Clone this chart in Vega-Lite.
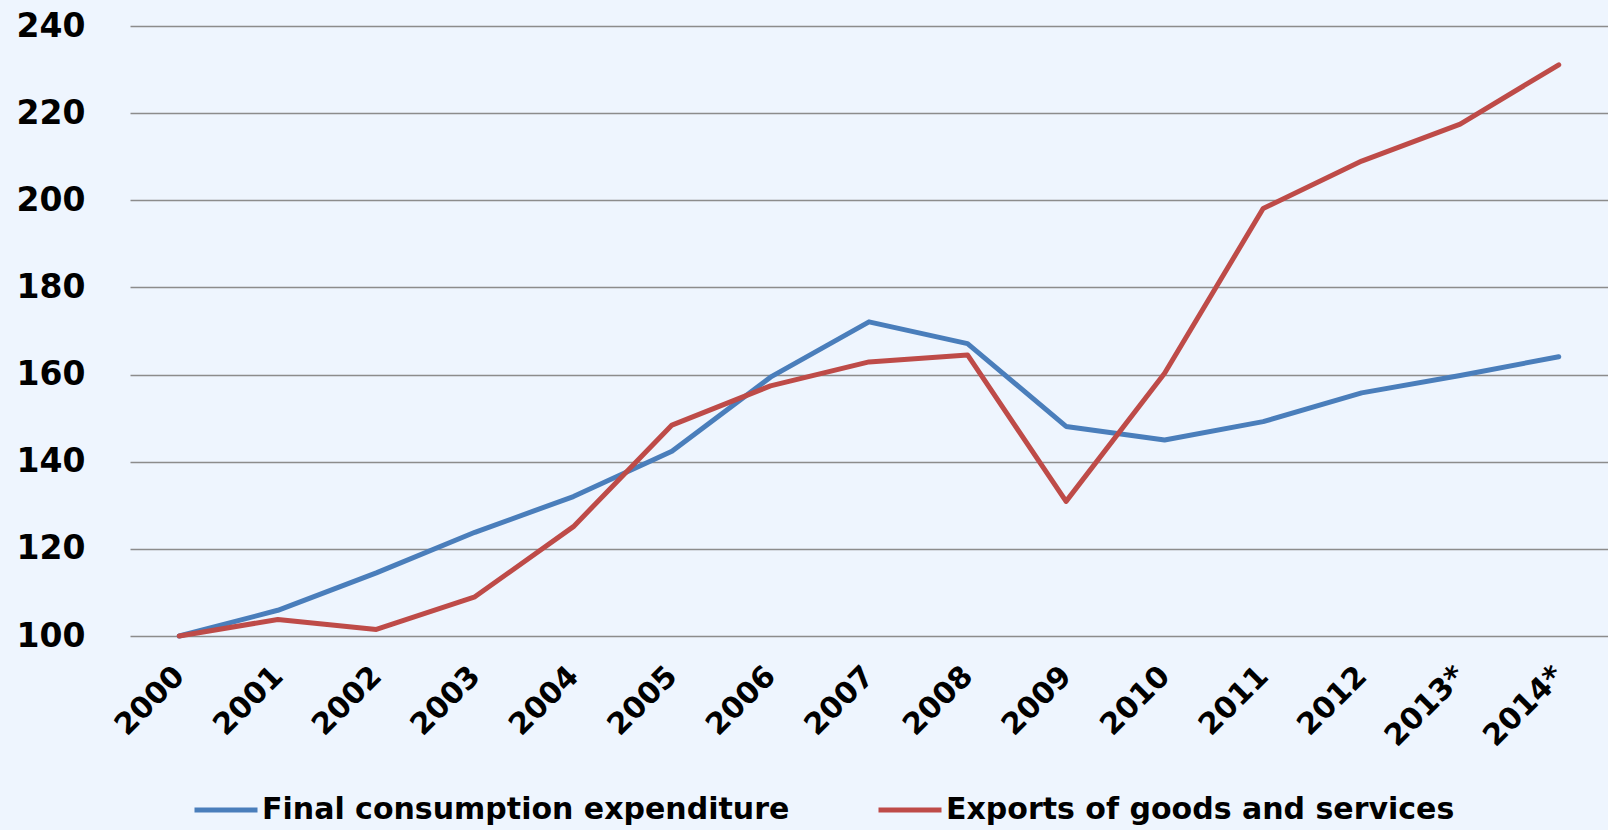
{
  "$schema": "https://vega.github.io/schema/vega-lite/v6.json",
  "width": 1478,
  "height": 610,
  "autosize": {"type": "none"},
  "padding": {"left": 130, "top": 26, "right": 0, "bottom": 194},
  "background": "#EEF5FE",
  "config": {"view": {"stroke": null}, "font": "DejaVu Sans"},
  "data": {
    "values": [
      {"year": "2000", "series": "Final consumption expenditure", "value": 100},
      {"year": "2001", "series": "Final consumption expenditure", "value": 105.9},
      {"year": "2002", "series": "Final consumption expenditure", "value": 114.5},
      {"year": "2003", "series": "Final consumption expenditure", "value": 123.8},
      {"year": "2004", "series": "Final consumption expenditure", "value": 132.0},
      {"year": "2005", "series": "Final consumption expenditure", "value": 142.4},
      {"year": "2006", "series": "Final consumption expenditure", "value": 159.4},
      {"year": "2007", "series": "Final consumption expenditure", "value": 172.1},
      {"year": "2008", "series": "Final consumption expenditure", "value": 167.1},
      {"year": "2009", "series": "Final consumption expenditure", "value": 148.1},
      {"year": "2010", "series": "Final consumption expenditure", "value": 145.0},
      {"year": "2011", "series": "Final consumption expenditure", "value": 149.2},
      {"year": "2012", "series": "Final consumption expenditure", "value": 155.8},
      {"year": "2013*", "series": "Final consumption expenditure", "value": 159.8},
      {"year": "2014*", "series": "Final consumption expenditure", "value": 164.1},
      {"year": "2000", "series": "Exports of goods and services", "value": 100},
      {"year": "2001", "series": "Exports of goods and services", "value": 103.8},
      {"year": "2002", "series": "Exports of goods and services", "value": 101.5},
      {"year": "2003", "series": "Exports of goods and services", "value": 109.0},
      {"year": "2004", "series": "Exports of goods and services", "value": 125.1},
      {"year": "2005", "series": "Exports of goods and services", "value": 148.4},
      {"year": "2006", "series": "Exports of goods and services", "value": 157.4},
      {"year": "2007", "series": "Exports of goods and services", "value": 162.9},
      {"year": "2008", "series": "Exports of goods and services", "value": 164.5},
      {"year": "2009", "series": "Exports of goods and services", "value": 130.9},
      {"year": "2010", "series": "Exports of goods and services", "value": 160.3},
      {"year": "2011", "series": "Exports of goods and services", "value": 198.1},
      {"year": "2012", "series": "Exports of goods and services", "value": 209.0},
      {"year": "2013*", "series": "Exports of goods and services", "value": 217.5},
      {"year": "2014*", "series": "Exports of goods and services", "value": 231.1}
    ]
  },
  "mark": {"type": "line", "strokeWidth": 5, "strokeCap": "round", "strokeJoin": "round"},
  "encoding": {
    "x": {
      "field": "year",
      "type": "ordinal",
      "sort": null,
      "scale": {"type": "point", "padding": 0.5},
      "axis": {
        "title": null,
        "domain": false,
        "ticks": false,
        "grid": false,
        "labelAngle": -45,
        "labelAlign": "right",
        "labelBaseline": "middle",
        "labelPadding": 35,
        "labelFont": "DejaVu Sans",
        "labelFontWeight": "bold",
        "labelFontSize": 30,
        "labelColor": "#000000"
      }
    },
    "y": {
      "field": "value",
      "type": "quantitative",
      "scale": {"domain": [100, 240], "nice": false, "zero": false},
      "axis": {
        "title": null,
        "domain": false,
        "ticks": false,
        "values": [100, 120, 140, 160, 180, 200, 220, 240],
        "grid": true,
        "gridColor": "#8C8C8C",
        "gridWidth": 1.5,
        "labelPadding": 45,
        "labelFont": "DejaVu Sans",
        "labelFontWeight": "bold",
        "labelFontSize": 33,
        "labelColor": "#000000"
      }
    },
    "color": {
      "field": "series",
      "type": "nominal",
      "sort": null,
      "scale": {
        "domain": ["Final consumption expenditure", "Exports of goods and services"],
        "range": ["#4A7EBB", "#BE4B48"]
      },
      "legend": {
        "title": null,
        "orient": "none",
        "direction": "horizontal",
        "legendX": 62,
        "legendY": 750,
        "padding": 0,
        "symbolType": "stroke",
        "symbolSize": 3969,
        "symbolStrokeWidth": 5,
        "labelFont": "DejaVu Sans",
        "labelFontWeight": "bold",
        "labelFontSize": 30,
        "labelColor": "#000000",
        "labelLimit": 0,
        "labelOffset": 2,
        "columnPadding": 78
      }
    }
  }
}
